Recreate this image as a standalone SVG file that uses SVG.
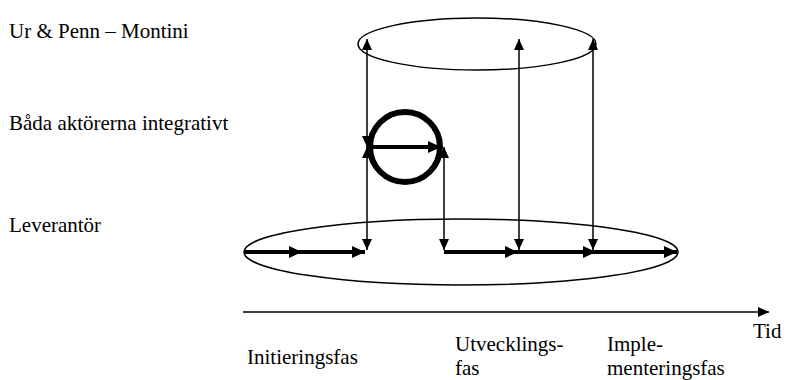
<svg xmlns="http://www.w3.org/2000/svg" width="791" height="380" viewBox="0 0 791 380">
<style>
  .t { font-family: "Liberation Serif", "Times New Roman", serif; font-size: 21px; fill: #000; }
  .shape { fill: none; stroke: #000; stroke-width: 1.5; }
  .thin { fill: none; stroke: #000; stroke-width: 1.5; }
  .bold { fill: none; stroke: #000; stroke-width: 4; }
</style>
<defs>
  <marker id="ah" markerUnits="userSpaceOnUse" markerWidth="11" markerHeight="10" refX="11" refY="5" orient="auto-start-reverse">
    <path d="M0,0 L11,5 L0,10 z" fill="#000"/>
  </marker>
  <marker id="ahb" markerUnits="userSpaceOnUse" markerWidth="13" markerHeight="12" refX="13" refY="6" orient="auto">
    <path d="M0,0 L13,6 L0,12 z" fill="#000"/>
  </marker>
</defs>

<g id="labels">
  <text class="t" x="9" y="38">Ur &amp; Penn – Montini</text>
  <text class="t" x="9" y="130">Båda aktörerna integrativt</text>
  <text class="t" x="9" y="232">Leverantör</text>
</g>

<g id="node-top">
  <ellipse class="shape" cx="477" cy="44" rx="119" ry="26"/>
</g>
<g id="node-both">
  <circle cx="405" cy="147" r="35" fill="none" stroke="#000" stroke-width="6"/>
</g>
<g id="node-supplier">
  <ellipse class="shape" cx="461" cy="252" rx="217" ry="33"/>
</g>

<g id="connectors">
  <path class="thin" d="M367,39 V147" marker-start="url(#ah)" marker-end="url(#ah)"/>
  <path class="thin" d="M367,147 V250" marker-start="url(#ah)" marker-end="url(#ah)"/>
  <path class="thin" d="M444,147 V250" marker-start="url(#ah)" marker-end="url(#ah)"/>
  <path class="thin" d="M519,39 V250" marker-start="url(#ah)" marker-end="url(#ah)"/>
  <path class="thin" d="M593,39 V250" marker-start="url(#ah)" marker-end="url(#ah)"/>
  <path class="bold" d="M367,147 H441" marker-end="url(#ahb)"/>
  <path class="bold" d="M244,252 H302" marker-end="url(#ahb)"/>
  <path class="bold" d="M302,252 H365" marker-end="url(#ahb)"/>
  <path class="bold" d="M444,252 H518" marker-end="url(#ahb)"/>
  <path class="bold" d="M518,252 H596" marker-end="url(#ahb)"/>
  <path class="bold" d="M593,252 H677" marker-end="url(#ahb)"/>
  <path class="thin" d="M243,312 H769" marker-end="url(#ah)"/>
</g>

<g id="axis-labels">
  <text class="t" x="753" y="338">Tid</text>
  <text class="t" x="247" y="364">Initieringsfas</text>
  <text class="t" x="455" y="351">Utvecklings-</text>
  <text class="t" x="455" y="375">fas</text>
  <text class="t" x="607" y="351">Imple-</text>
  <text class="t" x="607" y="375">menteringsfas</text>
</g>
</svg>
